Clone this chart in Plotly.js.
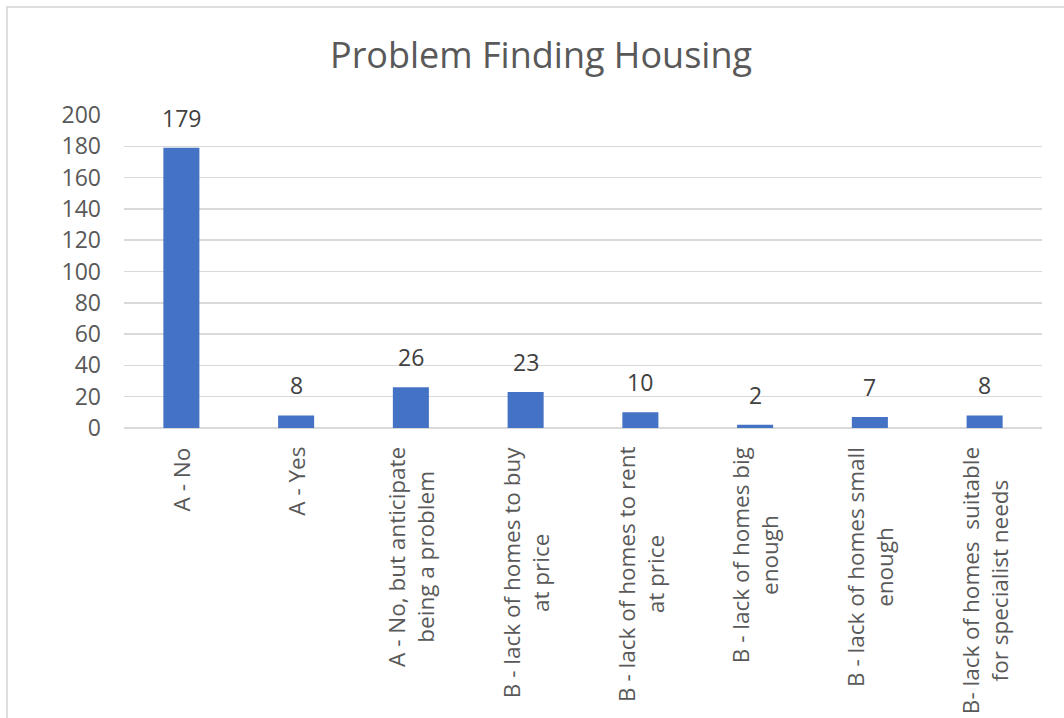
<!DOCTYPE html>
<html>
<head>
<meta charset="utf-8">
<script src="https://cdn.plot.ly/plotly-3.0.1.min.js"></script>
<style>
  body { margin: 0; background: #ffffff; }
  #chartDiv { width: 1064px; height: 718px; }
  #frame {
    position: absolute; left: 6px; top: 6px; width: 1070px; height: 730px;
    border-top: 2px solid #dedede; border-left: 2px solid #dedede;
    pointer-events: none;
  }
</style>
</head>
<body>
<div id="chartDiv"></div>
<div id="frame"></div>
<script>
// data
var categories = [
  "A - No",
  "A - Yes",
  "A - No, but anticipate<br>being a problem",
  "B - lack of homes to buy<br>at price",
  "B - lack of homes to rent<br>at price",
  "B - lack of homes big<br>enough",
  "B - lack of homes small<br>enough",
  "B- lack of homes  suitable<br>for specialist needs"
];
var counts = [179, 8, 26, 23, 10, 2, 7, 8];
var yTicks = [0, 20, 40, 60, 80, 100, 120, 140, 160, 180, 200];

var fontName = "Open Sans, sans-serif";

var trace = {
  x: categories,
  y: counts,
  type: 'bar',
  marker: { color: '#4472C4' },
  hoverinfo: 'x+y'
};

// data labels above the bars
var annots = [];
for (var i = 0; i < categories.length; i++) {
  annots.push({
    x: categories[i],
    y: counts[i],
    xref: 'x', yref: 'y',
    text: String(counts[i]),
    showarrow: false,
    yanchor: 'bottom',
    yshift: 12,
    font: { family: fontName, size: 23, color: '#404040' }
  });
}

// category labels, rotated and centred like the original
for (var j = 0; j < categories.length; j++) {
  annots.push({
    x: categories[j],
    y: 0,
    xref: 'x', yref: 'paper',
    text: categories[j],
    textangle: -90,
    align: 'center',
    showarrow: false,
    yanchor: 'top',
    xanchor: 'center',
    yshift: -17,
    font: { family: fontName, size: 22.5, color: '#595959' }
  });
}

var layout = {
  width: 1064,
  height: 718,
  margin: { l: 124, r: 22, t: 115, b: 290 },
  paper_bgcolor: '#ffffff',
  plot_bgcolor: '#ffffff',
  showlegend: false,
  bargap: 0.686,
  title: {
    text: 'Problem Finding Housing',
    font: { family: fontName, size: 36, color: '#595959' },
    x: 541 / 1064,
    xref: 'container',
    xanchor: 'center',
    y: 1 - 55 / 718,
    yref: 'container',
    yanchor: 'middle'
  },
  xaxis: {
    type: 'category',
    showticklabels: false,
    showgrid: false,
    showline: false,
    ticks: ''
  },
  yaxis: {
    range: [0, 200],
    tickvals: yTicks,
    ticktext: yTicks.map(String),
    showgrid: true,
    gridcolor: '#d9d9d9',
    gridwidth: 1.5,
    zeroline: true,
    zerolinecolor: '#d9d9d9',
    zerolinewidth: 1.5,
    showline: false,
    ticks: '',
    ticklen: 0,
    ticklabelstandoff: 22,
    tickfont: { family: fontName, size: 23, color: '#595959' }
  },
  annotations: annots
};

Plotly.newPlot('chartDiv', [trace], layout, { displayModeBar: false, staticPlot: true });
</script>
</body>
</html>
